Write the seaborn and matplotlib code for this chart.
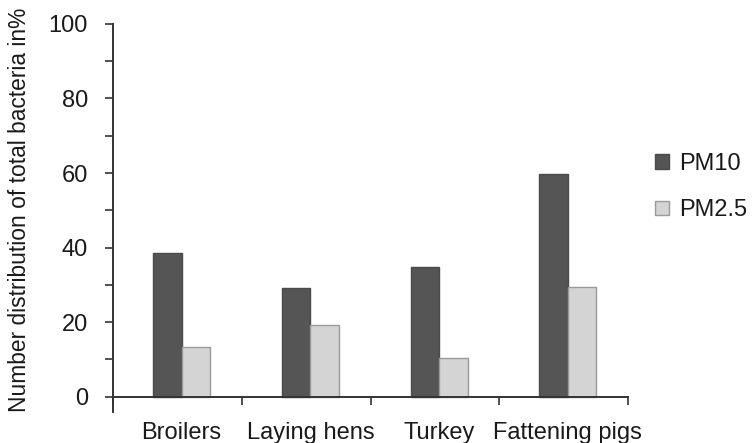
import numpy as np
import pandas as pd
import matplotlib
matplotlib.use("Agg")
import matplotlib.pyplot as plt
from matplotlib.patches import Patch
from matplotlib.ticker import FixedLocator, NullFormatter
import seaborn as sns

categories = ["Broilers", "Laying hens", "Turkey", "Fattening pigs"]
series_names = ["PM10", "PM2.5"]
pm10_values = [38.5, 29.2, 34.7, 59.8]
pm25_values = [13.4, 19.3, 10.5, 29.5]
y_label = "Number distribution of total bacteria in%"

dark = "#555555"
light = "#d4d4d4"
edge_dark = "#4a4a4a"
edge_light = "#9a9a9a"

df = pd.DataFrame({
    "category": categories * 2,
    "series": [series_names[0]] * len(categories) + [series_names[1]] * len(categories),
    "value": pm10_values + pm25_values,
})

sns.set_style("white")
plt.rcParams["font.family"] = ["Liberation Sans", "DejaVu Sans"]

fig = plt.figure(figsize=(7.54, 4.43), dpi=100)
ax = fig.add_axes([0.15, 0.07, 0.833 - 0.15, 0.946 - 0.07])

sns.barplot(data=df, x="category", y="value", hue="series", order=categories,
            hue_order=series_names, palette=[dark, light], width=0.444,
            saturation=1, legend=False, ax=ax, linewidth=1)
for cont, ec in zip(ax.containers, [edge_dark, edge_light]):
    for p in cont:
        p.set_edgecolor(ec)
        p.set_linewidth(1.0)

shift = 0.032
ax.set_xlim(-0.5 - shift, len(categories) - 0.5 - shift)
ax.set_ylim(-4.1, 100)

spine_col = "#333333"
text_col = "#1a1a1a"
for s in ["top", "right"]:
    ax.spines[s].set_visible(False)
ax.spines["left"].set_color(spine_col)
ax.spines["left"].set_linewidth(1.4)
ax.spines["bottom"].set_color(spine_col)
ax.spines["bottom"].set_linewidth(1.4)
ax.spines["bottom"].set_position(("data", 0))

ax.yaxis.set_major_locator(FixedLocator(np.arange(0, 101, 20)))
ax.yaxis.set_minor_locator(FixedLocator(np.arange(10, 100, 20)))
ax.tick_params(axis="y", which="both", direction="out", length=6, width=1.2,
               color=spine_col, left=True, labelsize=17, pad=12, labelcolor=text_col)

boundaries = np.arange(len(categories) + 1) - 0.5 - shift
ax.xaxis.set_major_locator(FixedLocator(boundaries))
ax.xaxis.set_major_formatter(NullFormatter())
ax.xaxis.set_minor_locator(FixedLocator(np.arange(len(categories))))
ax.set_xticklabels(categories, minor=True)
ax.tick_params(axis="x", which="major", direction="out", length=6, width=1.2,
               color=spine_col, bottom=True)
ax.tick_params(axis="x", which="minor", length=0, labelsize=17, pad=18,
               labelcolor=text_col)

ax.set_xlabel("")
ax.set_ylabel(y_label, fontsize=16.4, color=text_col)
ax.yaxis.set_label_coords(-0.16, 0.52)

handles = [Patch(facecolor=dark, edgecolor=edge_dark, label=series_names[0]),
           Patch(facecolor=light, edgecolor=edge_light, label=series_names[1])]
fig.legend(handles=handles, loc="center left", bbox_to_anchor=(0.869, 0.578),
           frameon=False, fontsize=17, handlelength=0.58, handleheight=0.58,
           handletextpad=0.45, labelspacing=1.05, borderpad=0, borderaxespad=0,
           labelcolor=text_col)

fig.savefig("out.png", dpi=100)
